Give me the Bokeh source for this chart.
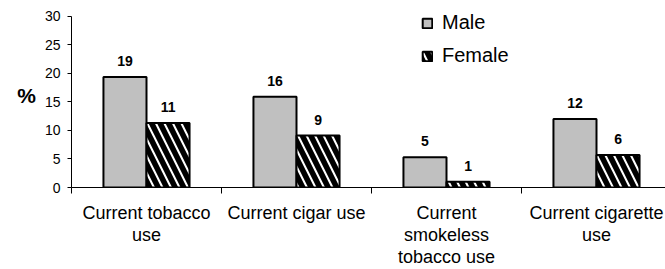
import numpy as np
from bokeh.plotting import figure
from bokeh.core.properties import value
from bokeh.models import (ColumnDataSource, FixedTicker, LabelSet, Legend, LegendItem)
from bokeh.embed import file_html
from bokeh.resources import INLINE

categories = ["Current tobacco\nuse", "Current cigar use",
              "Current\nsmokeless\ntobacco use", "Current cigarette\nuse"]
male = [19.4, 15.9, 5.3, 12.0]
female = [11.3, 9.1, 1.0, 5.7]
male_labels = ["19", "16", "5", "12"]
female_labels = ["11", "9", "1", "6"]
y_ticks = [0, 5, 10, 15, 20, 25, 30]

FONT = "Liberation Sans"
n = len(categories)
centers = list(np.arange(n) + 0.5)
bw = 0.287

src_m = ColumnDataSource(dict(x=[c - bw / 2 for c in centers], top=male, lab=male_labels))
src_f = ColumnDataSource(dict(x=[c + bw / 2 for c in centers], top=female, lab=female_labels))

p = figure(width=665, height=269, output_backend="svg", toolbar_location=None,
           x_range=(0, 3.96), y_range=(0, 32.45),
           min_border_left=71, min_border_right=0, min_border_top=2, min_border_bottom=82)
p.outline_line_color = None
p.xgrid.visible = False
p.ygrid.visible = False
p.background_fill_color = "white"

rm = p.vbar(x="x", top="top", width=bw, source=src_m, fill_color="#C0C0C0",
            line_color="black", line_width=2)
rf = p.vbar(x="x", top="top", width=bw, source=src_f, fill_color="white",
            line_color="black", line_width=2, hatch_pattern="left_diagonal_line",
            hatch_color="black", hatch_scale=17, hatch_weight=5.5)

for src in (src_m, src_f):
    p.add_layout(LabelSet(x="x", y="top", text="lab", source=src, text_align="center",
                          text_baseline="bottom", y_offset=11, text_font=value(FONT),
                          text_font_size="14px", text_font_style="bold", text_color="black"))

# y axis
yax = p.yaxis[0]
yax.ticker = FixedTicker(ticks=y_ticks)
yax.bounds = (0, 30)
yax.minor_tick_line_color = None
yax.major_tick_in = 0
yax.major_tick_out = 4
yax.axis_line_color = "black"
yax.major_tick_line_color = "black"
yax.major_label_text_font = FONT
yax.major_label_text_font_size = "14px"
yax.major_label_text_color = "black"
yax.major_label_standoff = 7
yax.axis_label = "%"
yax.axis_label_orientation = "horizontal"
yax.axis_label_text_font = FONT
yax.axis_label_text_font_size = "21px"
yax.axis_label_text_font_style = "bold"
yax.axis_label_text_color = "black"
yax.axis_label_standoff = 6

# x axis
xax = p.xaxis[0]
xax.ticker = FixedTicker(ticks=centers, minor_ticks=list(range(n + 1)))
xax.major_label_overrides = {c: lab for c, lab in zip(centers, categories)}
xax.major_tick_in = 0
xax.major_tick_out = 0
xax.minor_tick_in = 0
xax.minor_tick_out = 6
xax.minor_tick_line_color = "black"
xax.axis_line_color = "black"
xax.major_label_text_font = FONT
xax.major_label_text_font_size = "18px"
xax.major_label_text_color = "black"
xax.major_label_text_line_height = 1.1
xax.major_label_standoff = 9

legend = Legend(items=[LegendItem(label="Male", renderers=[rm]),
                       LegendItem(label="Female", renderers=[rf])],
                location=(350, 120), padding=0, margin=0, spacing=10,
                glyph_width=12, glyph_height=12, label_height=20, label_standoff=9,
                label_text_font=FONT, label_text_font_size="20px",
                label_text_color="black", border_line_color=None,
                background_fill_alpha=0)
p.add_layout(legend)

open("out.html", "w").write(file_html(p, INLINE))
